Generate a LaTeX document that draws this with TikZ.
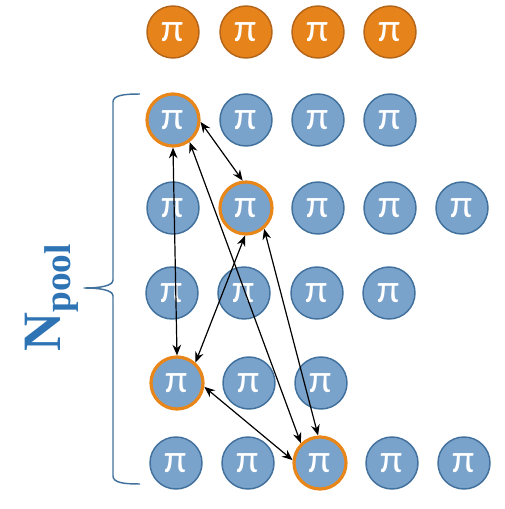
\documentclass[tikz,border=0pt]{standalone}
\usepackage{fontspec}
\setmainfont{Liberation Serif}
\newfontfamily\carl{Carlito}
\usetikzlibrary{arrows.meta}
\definecolor{poolblue}{RGB}{122,163,204}
\definecolor{poolline}{RGB}{65,113,156}
\definecolor{topfill}{RGB}{230,131,27}
\definecolor{topline}{RGB}{180,101,25}
\definecolor{hl}{RGB}{232,134,26}
\definecolor{labblue}{RGB}{46,116,181}
\tikzset{
  pinode/.style={circle, minimum size=39pt, inner sep=0pt, fill=poolblue, draw=poolline, line width=1.1pt,
    text=white, font=\carl\fontsize{30}{30}\selectfont},
  topnode/.style={pinode, fill=topfill, draw=topline},
  sel/.style={draw=hl, line width=2.4pt},
  link/.style={{Stealth[length=8pt,width=6.5pt]}-{Stealth[length=8pt,width=6.5pt]}, line width=0.9pt, black},
  brace/.style={draw=poolline, line width=1.1pt, line join=round}
}
\begin{document}
\begin{tikzpicture}[x=0.75pt,y=-0.75pt]
\useasboundingbox (0,0) rectangle (505,509);
% top row
\node[topnode] (t1) at (173,32) {π};
\node[topnode] (t2) at (246,32) {π};
\node[topnode] (t3) at (318,32) {π};
\node[topnode] (t4) at (390,32) {π};
% row a
\node[pinode,sel] (a1) at (173,120) {π};
\node[pinode] (a2) at (246,120) {π};
\node[pinode] (a3) at (318,120) {π};
\node[pinode] (a4) at (390,120) {π};
% row b
\node[pinode] (b1) at (173,208) {π};
\node[pinode,sel] (b2) at (246,208) {π};
\node[pinode] (b3) at (318,208) {π};
\node[pinode] (b4) at (390,208) {π};
\node[pinode] (b5) at (462,208) {π};
% row c
\node[pinode] (c1) at (172,293) {π};
\node[pinode] (c2) at (244,293) {π};
\node[pinode] (c3) at (317,293) {π};
\node[pinode] (c4) at (389,293) {π};
% row d
\node[pinode,sel] (d1) at (177,383) {π};
\node[pinode] (d2) at (249,383) {π};
\node[pinode] (d3) at (321,383) {π};
% row e
\node[pinode] (e1) at (176,463) {π};
\node[pinode] (e2) at (248,463) {π};
\node[pinode,sel] (e3) at (320,463) {π};
\node[pinode] (e4) at (392,463) {π};
\node[pinode] (e5) at (464,463) {π};
% links
\draw[link] (a1.-90) -- (d1.90);
\draw[link] (a1.-4) -- (b2.97);
\draw[link] (a1.-53) -- (e3.134);
\draw[link] (b2.-92) -- (d1.48);
\draw[link] (b2.-49) -- (e3.94);
\draw[link] (d1.-8) -- (e3.174);
% brace
\coordinate (brtop) at (140,94);
\coordinate (brtip) at (84,288);
\coordinate (brbot) at (140,484);
\draw[brace] (brtop) .. controls (125,94) and (113,95) .. (113,102)
  -- (113,280) .. controls (113,286) and (100,288) .. (brtip)
  .. controls (100,288) and (113,290) .. (113,296)
  -- (113,476) .. controls (113,483) and (125,484) .. (brbot);
% label
\node[rotate=90, anchor=base west, inner sep=0pt, text=labblue, font=\bfseries] (lab) at (60,352)
  {\fontsize{40.5}{40}\selectfont N\raisebox{-7.5pt}{\fontsize{28}{28}\selectfont pool}};
\end{tikzpicture}
\end{document}
